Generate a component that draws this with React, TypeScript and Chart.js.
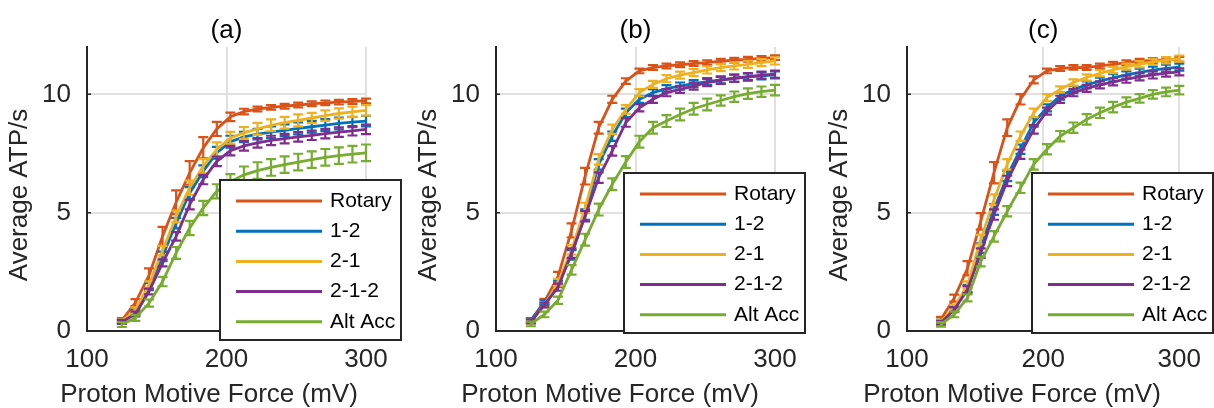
import React, { useEffect, useRef } from 'react';
import { Chart, registerables } from 'chart.js';

Chart.register(...registerables);

// ---------- data ----------
const pmf = [125, 134.72, 144.44, 154.17, 163.89, 173.61, 183.33, 193.06, 202.78, 212.5, 222.22, 231.94, 241.67, 251.39, 261.11, 270.83, 280.56, 290.28, 300];
const xTicks = [100, 200, 300];
const yTicks = [0, 5, 10];
const seriesNames = ['Rotary', '1-2', '2-1', '2-1-2', 'Alt Acc'];
const panelTitles = ['(a)', '(b)', '(c)'];
const xTitle = 'Proton Motive Force (mV)';
const yTitle = 'Average ATP/s';

// panel (a)
const rotaryA = [0.45, 1.2, 2.35, 4.0, 5.44, 6.68, 7.74, 8.54, 9.05, 9.27, 9.38, 9.45, 9.5, 9.55, 9.6, 9.64, 9.67, 9.7, 9.72];
const oneTwoA = [0.4, 0.8, 1.88, 3.15, 4.56, 5.83, 6.75, 7.53, 8.0, 8.2, 8.32, 8.4, 8.48, 8.56, 8.63, 8.7, 8.77, 8.83, 8.87];
const twoOneA = [0.4, 0.9, 1.95, 3.4, 4.84, 6.05, 6.96, 7.67, 8.16, 8.37, 8.54, 8.69, 8.8, 8.9, 9.0, 9.1, 9.19, 9.26, 9.32];
const twoOneTwoA = [0.38, 0.72, 1.67, 2.88, 4.0, 5.34, 6.4, 7.17, 7.62, 7.82, 7.95, 8.05, 8.13, 8.2, 8.27, 8.34, 8.4, 8.46, 8.52];
const altAccA = [0.27, 0.55, 1.18, 2.09, 3.3, 4.35, 5.2, 5.9, 6.31, 6.6, 6.78, 6.91, 7.03, 7.14, 7.24, 7.34, 7.41, 7.47, 7.53];
const rotaryErrA = [0.1, 0.15, 0.3, 0.4, 0.5, 0.5, 0.45, 0.3, 0.18, 0.12, 0.1, 0.1, 0.1, 0.1, 0.1, 0.1, 0.1, 0.1, 0.1];
const oneTwoErrA = [0.08, 0.1, 0.15, 0.2, 0.22, 0.25, 0.25, 0.25, 0.25, 0.22, 0.22, 0.25, 0.25, 0.25, 0.25, 0.25, 0.25, 0.22, 0.22];
const twoOneErrA = [0.08, 0.1, 0.15, 0.2, 0.25, 0.3, 0.3, 0.3, 0.25, 0.25, 0.25, 0.25, 0.25, 0.25, 0.22, 0.22, 0.22, 0.22, 0.22];
const twoOneTwoErrA = [0.08, 0.1, 0.12, 0.15, 0.18, 0.2, 0.2, 0.2, 0.2, 0.2, 0.2, 0.2, 0.2, 0.2, 0.2, 0.2, 0.2, 0.2, 0.2];
const altAccErrA = [0.1, 0.12, 0.15, 0.2, 0.25, 0.3, 0.3, 0.3, 0.32, 0.35, 0.35, 0.35, 0.35, 0.35, 0.35, 0.35, 0.35, 0.35, 0.35];

// panel (b)
const rotaryB = [0.45, 1.24, 2.3, 4.25, 6.54, 8.59, 9.79, 10.56, 10.99, 11.13, 11.2, 11.25, 11.3, 11.34, 11.4, 11.44, 11.48, 11.52, 11.55];
const oneTwoB = [0.45, 1.2, 2.0, 3.22, 4.92, 7.04, 8.23, 9.22, 9.79, 10.07, 10.24, 10.35, 10.45, 10.54, 10.61, 10.68, 10.73, 10.78, 10.82];
const twoOneB = [0.4, 1.1, 2.05, 3.43, 5.2, 7.25, 8.52, 9.36, 10.07, 10.42, 10.66, 10.81, 10.92, 11.03, 11.13, 11.2, 11.27, 11.34, 11.41];
const twoOneTwoB = [0.4, 1.1, 1.85, 3.29, 4.85, 6.48, 7.61, 8.81, 9.43, 9.79, 10.07, 10.21, 10.35, 10.5, 10.59, 10.68, 10.75, 10.81, 10.85];
const altAccB = [0.3, 0.7, 1.3, 2.58, 3.86, 5.13, 6.2, 7.14, 8.0, 8.59, 8.87, 9.15, 9.39, 9.57, 9.74, 9.9, 10.03, 10.11, 10.18];
const rotaryErrB = [0.1, 0.12, 0.2, 0.3, 0.35, 0.25, 0.15, 0.12, 0.1, 0.1, 0.1, 0.1, 0.1, 0.1, 0.1, 0.1, 0.1, 0.1, 0.1];
const oneTwoErrB = [0.08, 0.1, 0.15, 0.2, 0.22, 0.22, 0.2, 0.18, 0.15, 0.15, 0.15, 0.15, 0.15, 0.15, 0.15, 0.15, 0.15, 0.15, 0.15];
const twoOneErrB = [0.08, 0.1, 0.15, 0.2, 0.22, 0.22, 0.2, 0.18, 0.15, 0.15, 0.15, 0.15, 0.15, 0.15, 0.15, 0.15, 0.15, 0.15, 0.15];
const twoOneTwoErrB = [0.08, 0.1, 0.15, 0.2, 0.22, 0.22, 0.2, 0.18, 0.15, 0.15, 0.15, 0.15, 0.15, 0.15, 0.15, 0.15, 0.15, 0.15, 0.15];
const altAccErrB = [0.1, 0.12, 0.15, 0.2, 0.25, 0.25, 0.25, 0.25, 0.25, 0.25, 0.25, 0.25, 0.25, 0.25, 0.22, 0.22, 0.22, 0.22, 0.22];

// panel (c)
const rotaryC = [0.5, 1.39, 2.65, 4.63, 6.69, 8.59, 9.79, 10.61, 10.99, 11.09, 11.14, 11.13, 11.2, 11.27, 11.34, 11.4, 11.43, 11.45, 11.48];
const oneTwoC = [0.4, 0.95, 1.8, 3.5, 5.13, 6.55, 7.68, 8.81, 9.43, 9.93, 10.2, 10.4, 10.56, 10.7, 10.82, 10.93, 11.02, 11.1, 11.15];
const twoOneC = [0.4, 1.0, 1.95, 3.86, 5.55, 7.04, 8.23, 9.22, 9.86, 10.21, 10.5, 10.71, 10.89, 11.03, 11.17, 11.27, 11.37, 11.44, 11.51];
const twoOneTwoC = [0.35, 0.9, 1.75, 3.29, 4.92, 6.34, 7.47, 8.52, 9.29, 9.79, 10.07, 10.25, 10.4, 10.53, 10.64, 10.74, 10.82, 10.9, 10.95];
const altAccC = [0.28, 0.7, 1.4, 2.93, 4.0, 5.06, 6.05, 7.04, 7.68, 8.23, 8.59, 8.94, 9.22, 9.46, 9.67, 9.83, 10.0, 10.1, 10.18];
const rotaryErrC = [0.1, 0.15, 0.3, 0.35, 0.45, 0.35, 0.22, 0.15, 0.1, 0.1, 0.1, 0.1, 0.1, 0.1, 0.1, 0.1, 0.1, 0.1, 0.1];
const oneTwoErrC = [0.08, 0.1, 0.15, 0.2, 0.22, 0.22, 0.2, 0.18, 0.15, 0.15, 0.15, 0.15, 0.15, 0.15, 0.15, 0.15, 0.15, 0.15, 0.15];
const twoOneErrC = [0.08, 0.1, 0.15, 0.2, 0.22, 0.22, 0.2, 0.18, 0.15, 0.13, 0.13, 0.13, 0.13, 0.13, 0.13, 0.13, 0.13, 0.13, 0.13];
const twoOneTwoErrC = [0.08, 0.1, 0.15, 0.2, 0.22, 0.22, 0.2, 0.18, 0.15, 0.15, 0.15, 0.15, 0.15, 0.15, 0.15, 0.15, 0.15, 0.15, 0.15];
const altAccErrC = [0.1, 0.12, 0.15, 0.2, 0.22, 0.22, 0.22, 0.22, 0.22, 0.22, 0.22, 0.22, 0.22, 0.22, 0.2, 0.18, 0.18, 0.18, 0.18];

const panelSeries = [
  [rotaryA, oneTwoA, twoOneA, twoOneTwoA, altAccA],
  [rotaryB, oneTwoB, twoOneB, twoOneTwoB, altAccB],
  [rotaryC, oneTwoC, twoOneC, twoOneTwoC, altAccC],
];
const panelErrors = [
  [rotaryErrA, oneTwoErrA, twoOneErrA, twoOneTwoErrA, altAccErrA],
  [rotaryErrB, oneTwoErrB, twoOneErrB, twoOneTwoErrB, altAccErrB],
  [rotaryErrC, oneTwoErrC, twoOneErrC, twoOneTwoErrC, altAccErrC],
];

// ---------- styles / layout ----------
const seriesColors = ['#D95319', '#0072BD', '#EDB120', '#7E2F8E', '#77AC30'];
const FONT = "'Liberation Sans', Arial, Helvetica, sans-serif";
const AXIS = '#262626';
const GRID = '#e0e0e0';
const H = 408;
const panelLayout = [
  { left: 0, width: 409, legendX: 220, legendY: 180, xTitleX: 209 },
  { left: 409, width: 411, legendX: 215, legendY: 173, xTitleX: 201 },
  { left: 820, width: 394, legendX: 212, legendY: 173, xTitleX: 192 },
];

const errorBarPlugin = {
  id: 'errorBars',
  afterDatasetDraw(chart: any, args: any) {
    const ds = chart.data.datasets[args.index];
    const errs = ds.errors;
    if (!errs) return;
    const ctx = chart.ctx;
    const ys = chart.scales.y;
    const cap = 5;
    ctx.save();
    ctx.strokeStyle = ds.borderColor;
    ctx.lineWidth = 2.2;
    args.meta.data.forEach((pt: any, i: number) => {
      const v = ds.data[i].y;
      const yt = ys.getPixelForValue(v + errs[i]);
      const yb = ys.getPixelForValue(v - errs[i]);
      const x = pt.x;
      ctx.beginPath();
      ctx.moveTo(x, yt);
      ctx.lineTo(x, yb);
      ctx.moveTo(x - cap, yt);
      ctx.lineTo(x + cap, yt);
      ctx.moveTo(x - cap, yb);
      ctx.lineTo(x + cap, yb);
      ctx.stroke();
    });
    ctx.restore();
  },
};

function makeDecorPlugin(idx: number) {
  return {
    id: 'decor' + idx,
    beforeDatasetsDraw(chart: any) {
      const ctx = chart.ctx;
      const { left, bottom } = chart.chartArea;
      const xs = chart.scales.x;
      const ys = chart.scales.y;
      ctx.save();
      ctx.strokeStyle = AXIS;
      ctx.lineWidth = 1.5;
      ctx.beginPath();
      yTicks.forEach((v) => {
        const y = ys.getPixelForValue(v);
        ctx.moveTo(left, y);
        ctx.lineTo(left + 4, y);
      });
      xTicks.forEach((v) => {
        const x = xs.getPixelForValue(v);
        ctx.moveTo(x, bottom);
        ctx.lineTo(x, bottom - 4);
      });
      ctx.stroke();
      ctx.restore();
    },
    afterDraw(chart: any) {
      const ctx = chart.ctx;
      const ca = chart.chartArea;
      const L = panelLayout[idx];
      ctx.save();
      // panel title
      ctx.fillStyle = '#000';
      ctx.font = `26px ${FONT}`;
      ctx.textAlign = 'center';
      ctx.textBaseline = 'middle';
      ctx.fillText(panelTitles[idx], (ca.left + ca.right) / 2, 31);
      // axis titles
      ctx.fillStyle = AXIS;
      ctx.fillText(xTitle, L.xTitleX, 394.5);
      ctx.save();
      ctx.translate(ca.left - 67, 195);
      ctx.rotate(-Math.PI / 2);
      ctx.fillText(yTitle, 0, 0);
      ctx.restore();
      // legend
      const bx = L.legendX;
      const by = L.legendY;
      const bw = 181;
      const bh = 160;
      ctx.fillStyle = '#fff';
      ctx.fillRect(bx, by, bw, bh);
      ctx.strokeStyle = AXIS;
      ctx.lineWidth = 2;
      ctx.strokeRect(bx, by, bw, bh);
      ctx.font = `21px ${FONT}`;
      ctx.textAlign = 'left';
      seriesNames.forEach((name, k) => {
        const ry = by + 21 + k * 30.2;
        ctx.strokeStyle = seriesColors[k];
        ctx.lineWidth = 3;
        ctx.beginPath();
        ctx.moveTo(bx + 16, ry);
        ctx.lineTo(bx + 102, ry);
        ctx.stroke();
        ctx.fillStyle = '#000';
        ctx.fillText(name, bx + 110, ry);
      });
      ctx.restore();
    },
  };
}

function buildConfig(idx: number): any {
  const L = panelLayout[idx];
  const series = panelSeries[idx];
  const errs = panelErrors[idx];
  return {
    type: 'line',
    data: {
      datasets: series.map((vals, k) => ({
        label: seriesNames[k],
        data: pmf.map((x, i) => ({ x, y: vals[i] })),
        errors: errs[k],
        borderColor: seriesColors[k],
        backgroundColor: seriesColors[k],
        borderWidth: 2.8,
        pointRadius: 0,
        tension: 0,
        fill: false,
        order: seriesNames.length - 1 - k,
      })),
    },
    options: {
      responsive: false,
      animation: false,
      events: [],
      layout: { padding: { left: 0, right: L.width - 366, top: 47, bottom: 0 } },
      plugins: { legend: { display: false }, tooltip: { enabled: false }, title: { display: false } },
      scales: {
        x: {
          type: 'linear',
          min: 100,
          max: 300,
          afterBuildTicks: (s: any) => {
            s.ticks = xTicks.map((v) => ({ value: v }));
          },
          afterFit: (s: any) => {
            s.height = H - 331;
          },
          grid: { color: GRID, lineWidth: 2, drawTicks: false },
          border: { display: true, color: AXIS, width: 2 },
          ticks: {
            padding: 13,
            color: AXIS,
            maxRotation: 0,
            autoSkip: false,
            font: { family: FONT, size: 26 },
          },
          title: { display: false },
        },
        y: {
          type: 'linear',
          min: 0,
          max: 12,
          afterBuildTicks: (s: any) => {
            s.ticks = yTicks.map((v) => ({ value: v }));
          },
          afterFit: (s: any) => {
            s.width = 87;
          },
          grid: { color: GRID, lineWidth: 2, drawTicks: false },
          border: { display: true, color: AXIS, width: 2 },
          ticks: {
            padding: 16,
            color: AXIS,
            autoSkip: false,
            font: { family: FONT, size: 26 },
          },
          title: { display: false },
        },
      },
    },
    plugins: [errorBarPlugin, makeDecorPlugin(idx)],
  };
}

function Panel({ idx }: { idx: number }) {
  const ref = useRef<HTMLCanvasElement | null>(null);
  useEffect(() => {
    if (!ref.current) return;
    const chart = new Chart(ref.current, buildConfig(idx));
    return () => chart.destroy();
  }, [idx]);
  const L = panelLayout[idx];
  return (
    <canvas
      ref={ref}
      width={L.width}
      height={H}
      style={{ position: 'absolute', left: L.left, top: 0, width: L.width, height: H }}
    />
  );
}

export default function App() {
  return (
    <div
      style={{
        position: 'absolute',
        left: 0,
        top: 0,
        width: 1214,
        height: H,
        overflow: 'hidden',
        background: '#fff',
      }}
    >
      {panelTitles.map((_, i) => (
        <Panel key={i} idx={i} />
      ))}
    </div>
  );
}
